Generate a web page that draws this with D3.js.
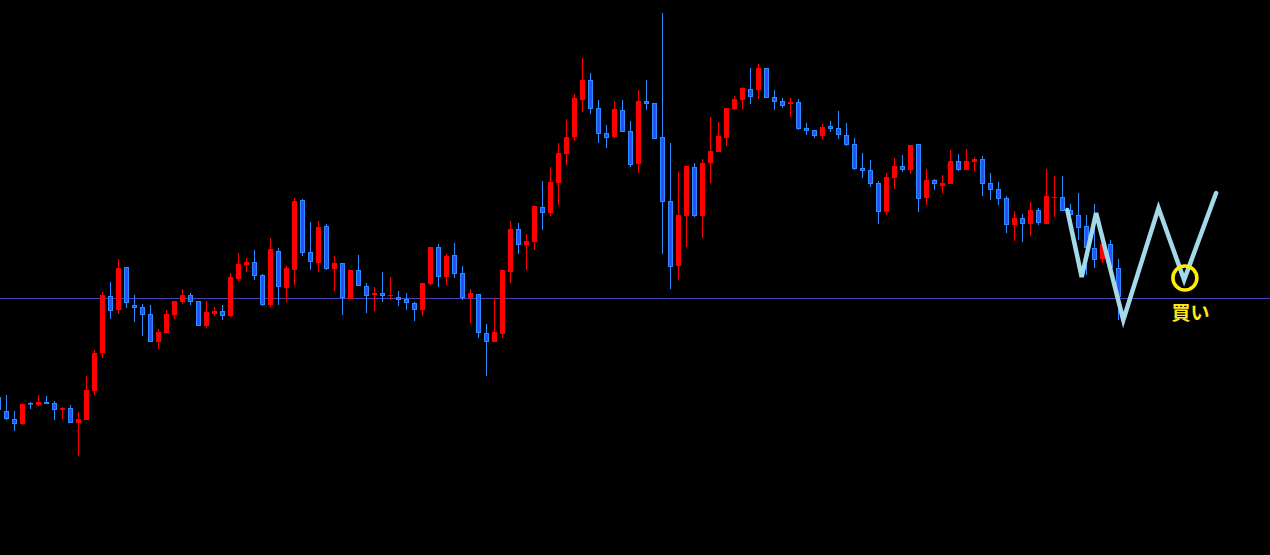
<!DOCTYPE html>
<html><head><meta charset="utf-8">
<script src="https://cdn.jsdelivr.net/npm/d3@7"></script>
<style>html,body{margin:0;padding:0;background:#000;overflow:hidden}</style>
</head><body>
<svg id="chart" width="1270" height="555"></svg>
<script>
// OHLC price data (candle index 0..140)
const open  = [163,149,141,136,157,155,158,157,150,152,137,140,169,207,264,250,293,255,253,246,218,227,245,258,265,259,234,246,249,244,281,295,298,285,255,309,272,290,360,308,297,334,291,297,261,290,274,265,267,264,263,261,257,250,276,313,283,305,287,262,266,227,218,226,288,331,315,318,353,347,377,406,423,460,480,452,427,423,450,429,396,459,457,423,359,294,344,393,344,397,408,422,451,460,471,470,492,463,459,456,458,432,430,424,434,432,425,416,392,390,377,348,382,394,390,416,362,380,374,376,399,390,398,401,377,371,362,335,342,336,350,336,362,363,350,345,334,312,301,316,292];
const high  = [167,165,149,156,158,165,164,159,153,155,148,184,210,268,278,301,293,265,256,255,231,250,259,271,267,259,259,253,255,287,307,302,310,286,322,312,294,362,361,338,339,336,304,297,290,305,277,273,288,283,269,267,258,277,313,316,306,317,294,271,266,236,262,290,339,337,326,354,379,393,417,441,466,502,487,460,435,459,460,439,470,480,457,547,417,388,394,397,401,443,438,452,464,473,492,496,492,470,462,462,461,437,430,436,439,449,437,422,407,400,379,387,402,405,415,416,391,381,385,410,406,411,403,404,387,378,364,349,346,358,352,391,384,384,356,367,345,356,320,320,301];
const low   = [148,140,129,135,151,154,156,140,141,137,104,140,165,202,241,246,252,238,224,218,211,227,241,256,255,234,232,244,240,243,279,288,280,254,253,255,258,275,304,290,288,290,269,245,261,274,247,249,258,260,254,250,239,244,275,273,275,282,260,237,222,184,218,222,277,306,290,310,330,344,355,395,419,448,446,417,412,422,428,393,387,450,421,306,271,280,313,343,322,377,408,414,450,451,456,461,462,450,452,443,430,425,422,421,428,421,414,390,382,373,336,345,371,388,386,348,355,370,367,376,389,390,389,364,360,355,327,319,318,324,335,336,343,349,340,320,285,292,297,290,240];
const close = [150,141,136,156,156,158,156,150,152,137,141,170,207,265,249,292,257,252,245,218,228,246,259,265,258,234,248,249,244,283,296,298,284,255,311,273,292,359,307,298,333,291,297,262,290,274,264,267,264,265,260,257,250,277,313,283,304,286,262,267,227,218,228,290,331,315,319,354,347,378,407,423,462,480,451,426,422,451,428,395,459,456,421,358,293,345,394,344,397,409,424,452,461,472,463,492,462,458,454,458,431,429,424,433,431,425,415,391,389,376,348,383,394,390,415,361,380,376,377,399,390,399,401,376,370,361,335,342,336,350,337,364,363,349,345,332,312,300,316,292,263];

// horizontal reference level
const refLevel = 262;
// hand-drawn W pattern (index, price)
const patternIdx   = [133.6,135.4,137.2,140.6,145.0,148.2,152.2];
const patternPrice = [350,283,347,240,352,280,367];
// buy marker
const buyIdx = 148.3, buyPrice = 282;
const buyLabelIdx = 149.0, buyLabelPrice = 240;
const buyLabel = "買い";

const W = 1270, H = 555;
const svg = d3.select("#chart");
svg.append("rect").attr("width", W).attr("height", H).attr("fill", "#000");

const x = d3.scaleLinear().domain([0, 140]).range([-1.5, 1118.5]);
const y = d3.scaleLinear().domain([0, 560]).range([560, 0]);

const candles = open.map((o, i) => ({i, o, h: high[i], l: low[i], c: close[i]}));

// reference line
svg.append("line")
  .attr("x1", 0).attr("x2", W)
  .attr("y1", y(refLevel) + 0.5).attr("y2", y(refLevel) + 0.5)
  .attr("stroke", "#4a40b8").attr("stroke-width", 1);

const g = svg.append("g");
const RED = "#ff0000", BLUE_W = "#2a8cff", BLUE_F = "#2f50f8";
const cg = g.selectAll("g.c").data(candles).join("g").attr("class", "c");
cg.append("line")
  .attr("x1", d => x(d.i)).attr("x2", d => x(d.i))
  .attr("y1", d => y(d.h)).attr("y2", d => y(d.l))
  .attr("stroke", d => d.c >= d.o ? RED : BLUE_W)
  .attr("stroke-width", 1);
cg.each(function(d) {
  const sel = d3.select(this);
  const top = y(Math.max(d.o, d.c)), bot = y(Math.min(d.o, d.c));
  const hgt = Math.max(1, bot - top);
  if (d.c >= d.o) {
    sel.append("rect").attr("x", x(d.i) - 2.5).attr("y", top)
      .attr("width", 5).attr("height", hgt).attr("fill", RED);
  } else {
    sel.append("rect").attr("x", x(d.i) - 2).attr("y", top + 0.5)
      .attr("width", 4).attr("height", Math.max(0.5, hgt - 1))
      .attr("fill", BLUE_F).attr("stroke", BLUE_W).attr("stroke-width", 1);
  }
});

// W pattern
const pts = patternIdx.map((v, k) => [x(v), y(patternPrice[k])]);
svg.append("path")
  .attr("d", d3.line()(pts))
  .attr("fill", "none").attr("stroke", "#a3d9e8")
  .attr("stroke-width", 4.5).attr("stroke-linejoin", "miter")
  .attr("stroke-linecap", "round");

// buy circle
svg.append("circle")
  .attr("cx", x(buyIdx)).attr("cy", y(buyPrice)).attr("r", 12)
  .attr("fill", "none").attr("stroke", "#ffee00").attr("stroke-width", 3.5);
svg.append("text")
  .attr("x", x(buyLabelIdx)).attr("y", y(buyLabelPrice))
  .attr("text-anchor", "middle")
  .attr("font-family", "'Noto Sans CJK JP', sans-serif")
  .attr("font-weight", "bold").attr("font-size", 19)
  .attr("fill", "#ffe61a").text(buyLabel);
</script>
</body></html>
